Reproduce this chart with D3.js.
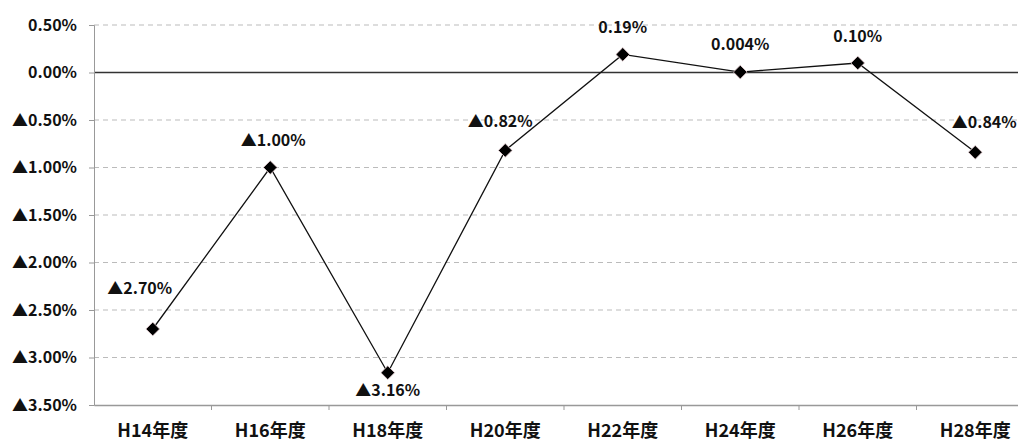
<!DOCTYPE html>
<html><head><meta charset="utf-8">
<script src="https://cdn.jsdelivr.net/npm/d3@7/dist/d3.min.js"></script>
<style>body{margin:0;background:#fff}svg text{font-family:"Noto Sans CJK JP","Liberation Sans",sans-serif;fill:#111}</style>
</head><body><svg id="c" width="1018" height="442"></svg>
<script>
const categories = ["H14年度","H16年度","H18年度","H20年度","H22年度","H24年度","H26年度","H28年度"];
const values = [-2.70, -1.00, -3.16, -0.82, 0.19, 0.004, 0.10, -0.84];
const valueLabels = ["▲2.70%","▲1.00%","▲3.16%","▲0.82%","0.19%","0.004%","0.10%","▲0.84%"];
const yTicks = [0.5, 0, -0.5, -1, -1.5, -2, -2.5, -3, -3.5];
const yTickLabels = ["0.50%","0.00%","▲0.50%","▲1.00%","▲1.50%","▲2.00%","▲2.50%","▲3.00%","▲3.50%"];
const labelOffsets = [[-13,-41],[3,-27],[0,18],[-5,-29],[0,-27],[0,-28],[0,-27],[9,-30]];

const svg = d3.select("#c");
const x = d3.scaleBand().domain(categories).range([94, 1034]);
const y = d3.scaleLinear().domain([-3.5, 0.5]).range([405, 25]);

// gridlines
svg.append("g").selectAll("line").data(yTicks.filter(t => t !== -3.5)).join("line")
  .attr("x1", 94).attr("x2", 1018)
  .attr("y1", d => y(d)).attr("y2", d => y(d))
  .attr("stroke", d => d === 0 ? "#333" : "#bbb")
  .attr("stroke-width", d => d === 0 ? 1.5 : 1)
  .attr("stroke-dasharray", d => d === 0 ? null : "5,4");

// y axis
const ya = svg.append("g").attr("transform", "translate(94,0)")
  .call(d3.axisLeft(y).tickValues(yTicks).tickFormat((d,i) => yTickLabels[i]).tickSize(5).tickPadding(12));
ya.select(".domain").attr("stroke", "#999");
ya.selectAll(".tick line").attr("stroke", "#999");
ya.selectAll("text").attr("font-size", 16).attr("font-weight", "bold").attr("fill", "#111");

// x axis
const xa = svg.append("g").attr("transform", "translate(0,405)")
  .call(d3.axisBottom(x).tickSize(0).tickPadding(19));
xa.select(".domain").attr("stroke", "#999").attr("stroke-width", 1.5);
xa.selectAll("text").attr("font-size", 18).attr("font-weight", "bold").attr("fill", "#111");
svg.append("g").selectAll("line").data(categories.slice(1)).join("line")
  .attr("x1", d => x(d)).attr("x2", d => x(d)).attr("y1", 405).attr("y2", 410)
  .attr("stroke", "#999");

// line
const cx = d => x(d) + x.bandwidth() / 2;
svg.append("path").datum(values.map((v,i) => [cx(categories[i]), y(v)]))
  .attr("d", d3.line()).attr("fill", "none").attr("stroke", "#111").attr("stroke-width", 1.3);

// markers
svg.append("g").selectAll("path").data(values).join("path")
  .attr("transform", (v,i) => `translate(${cx(categories[i])},${y(v)})`)
  .attr("d", d3.symbol(d3.symbolDiamond2, 120))
  .attr("fill", "#000").attr("stroke", "#e8d0d4").attr("stroke-width", 0.8);

// labels
svg.append("g").selectAll("text").data(values).join("text")
  .attr("x", (v,i) => cx(categories[i]) + labelOffsets[i][0])
  .attr("y", (v,i) => y(v) + labelOffsets[i][1])
  .attr("dy", "0.35em").attr("text-anchor", "middle")
  .attr("font-size", 16).attr("font-weight", "bold")
  .text((v,i) => valueLabels[i]);
</script></body></html>
